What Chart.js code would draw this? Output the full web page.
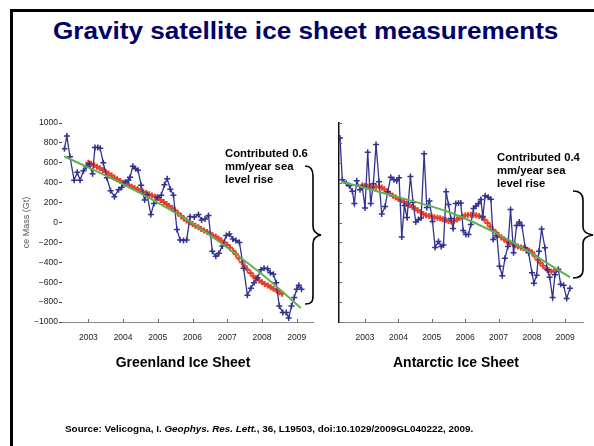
<!DOCTYPE html>
<html>
<head>
<meta charset="utf-8">
<script src="https://cdn.jsdelivr.net/npm/chart.js@4.4.1/dist/chart.umd.min.js"></script>
<style>
  html, body { margin: 0; padding: 0; background: #fff; }
  body { width: 594px; height: 446px; position: relative; overflow: hidden;
         font-family: "Liberation Sans", Arial, Helvetica, sans-serif; }
  .abs { position: absolute; white-space: nowrap; }
  .frame { position: absolute; background: #000; z-index: 5; }
  #title { left: 53px; top: 20px; font-size: 23px; line-height: 23px; font-weight: bold;
           color: #000066; transform: scaleX(1.136); transform-origin: left top; }
  .note { font-size: 11.3px; line-height: 13px; font-weight: bold; color: #000; }
  .caption { width: 200px; text-align: center; font-size: 14px; line-height: 14px; font-weight: bold; color: #000; }
  #source { left: 65px; top: 425px; font-size: 8.4px; line-height: 9px; font-weight: bold; color: #000;
            transform: scaleX(1.18); transform-origin: left top; }
  canvas { position: absolute; }
  svg { position: absolute; left: 0; top: 0; pointer-events: none; }
</style>
</head>
<body>
<div class="frame" style="left:10px;top:9px;width:600px;height:3px"></div>
<div class="frame" style="left:10px;top:9px;width:3px;height:450px"></div>

<div id="title" class="abs">Gravity satellite ice sheet measurements</div>

<canvas id="greenland" width="320" height="230" style="left:0;top:110px"></canvas>
<canvas id="antarctic" width="274" height="230" style="left:320px;top:110px"></canvas>

<div class="abs note" style="left:225px;top:147px">Contributed 0.6<br>mm/year sea<br>level rise</div>
<div class="abs note" style="left:497px;top:151px">Contributed 0.4<br>mm/year sea<br>level rise</div>

<svg width="594" height="446">
  <path d="M305,166 C311,166 313,170 313,176 L313,226 C313,231 316,234 321,235 C316,236 313,239 313,244 L313,296 C313,302 311,304 305,304"
        fill="none" stroke="#000" stroke-width="1.6"/>
  <path d="M573,191 C580,191 583,195 583,200 L583,227 C583,232 587,234 593,235 C587,236 583,238 583,243 L583,270 C583,275 580,278 573,278"
        fill="none" stroke="#000" stroke-width="1.6"/>
</svg>

<div class="abs caption" style="left:83px;top:355px">Greenland Ice Sheet</div>
<div class="abs caption" style="left:356px;top:355px">Antarctic Ice Sheet</div>

<div id="source" class="abs">Source: Velicogna, I. <i>Geophys. Res. Lett.</i>, 36, L19503, doi:10.1029/2009GL040222, 2009.</div>

<script>
// axis ticks
const yearTicks = [2003, 2004, 2005, 2006, 2007, 2008, 2009];
const massTicks = [1000, 800, 600, 400, 200, 0, -200, -400, -600, -800, -1000];

// Greenland monthly mass (Gt)
const greenlandYears = [2002.31, 2002.38, 2002.47, 2002.59, 2002.68, 2002.76, 2002.86, 2002.94,
    2003.02, 2003.12, 2003.19, 2003.27, 2003.34, 2003.43, 2003.53, 2003.64, 2003.75, 2003.87, 2003.96,
    2004.06, 2004.15, 2004.20, 2004.28, 2004.36, 2004.43, 2004.52, 2004.62, 2004.69, 2004.80, 2004.89, 2004.99,
    2005.10, 2005.19, 2005.27, 2005.36, 2005.45, 2005.55, 2005.64, 2005.74, 2005.83, 2005.93,
    2006.05, 2006.17, 2006.26, 2006.36, 2006.46, 2006.57, 2006.67, 2006.76, 2006.86, 2006.97,
    2007.06, 2007.16, 2007.25, 2007.35, 2007.47, 2007.58, 2007.68, 2007.77, 2007.87, 2007.97,
    2008.06, 2008.16, 2008.24, 2008.33, 2008.41, 2008.50, 2008.60, 2008.70, 2008.77, 2008.85, 2008.93,
    2009.00, 2009.06, 2009.14];
const greenlandMass = [740, 870, 660, 425, 505, 425, 520, 560,
    590, 490, 755, 755, 745, 600, 450, 320, 260, 330, 355,
    405, 425, 455, 565, 540, 525, 375, 225, 280, 80, 190, 255,
    275, 380, 440, 335, 275, -70, -175, -180, -175, 60,
    55, 80, 25, 35, 70, -290, -340, -310, -235, -130,
    -115, -165, -180, -200, -460, -730, -660, -605, -555, -475,
    -460, -465, -505, -520, -605, -840, -905, -905, -960, -840, -755,
    -670, -630, -670];

// Greenland smoothed series
const greenlandSmoothYears = [
    2003.00, 2003.08, 2003.17, 2003.25, 2003.33, 2003.42, 2003.50, 2003.58, 2003.67, 2003.75, 2003.83, 2003.92,
    2004.00, 2004.08, 2004.17, 2004.25, 2004.33, 2004.42, 2004.50, 2004.58, 2004.67, 2004.75, 2004.83, 2004.92,
    2005.00, 2005.08, 2005.17, 2005.25, 2005.33, 2005.42, 2005.50, 2005.58, 2005.67, 2005.75, 2005.83, 2005.92,
    2006.00, 2006.08, 2006.17, 2006.25, 2006.33, 2006.42, 2006.50, 2006.58, 2006.67, 2006.75, 2006.83, 2006.92,
    2007.00, 2007.08, 2007.17, 2007.25, 2007.33, 2007.42, 2007.50, 2007.58, 2007.67, 2007.75, 2007.83, 2007.92,
    2008.00, 2008.08, 2008.17, 2008.25, 2008.33, 2008.42, 2008.50, 2008.58];
const greenlandSmooth = [
    600, 590, 575, 560, 545, 528, 510, 492, 472, 450, 435, 418,
    400, 388, 374, 360, 347, 333, 320, 308, 297, 285, 272, 259,
    245, 225, 205, 185, 165, 142, 120, 92, 65, 40, 20, 2,
    -15, -32, -48, -65, -80, -95, -110, -127, -143, -160, -180, -202,
    -225, -255, -287, -320, -360, -400, -440, -475, -508, -540, -562, -582,
    -600, -617, -634, -650, -667, -684, -700, -715];

// Greenland fitted trend
const greenlandFitYears = [2002.30, 2004.00, 2006.00, 2008.00, 2009.12];
const greenlandFit = [666, 385, -10, -520, -860];

// Antarctic monthly mass (Gt)
const antarcticYears = [2002.25, 2002.32, 2002.44, 2002.53, 2002.62, 2002.68, 2002.75, 2002.85, 2002.92,
    2003.00, 2003.08, 2003.17, 2003.25, 2003.33, 2003.42, 2003.50, 2003.60, 2003.68, 2003.77, 2003.87, 2003.95,
    2004.02, 2004.10, 2004.18, 2004.26, 2004.36, 2004.44, 2004.52, 2004.60, 2004.68, 2004.77, 2004.85, 2004.93,
    2005.02, 2005.10, 2005.20, 2005.28, 2005.35, 2005.43, 2005.50, 2005.57, 2005.64, 2005.72, 2005.80, 2005.87, 2005.94,
    2006.02, 2006.10, 2006.17, 2006.25, 2006.32, 2006.40, 2006.47, 2006.53, 2006.60, 2006.69, 2006.77, 2006.84, 2006.95,
    2007.03, 2007.11, 2007.19, 2007.28, 2007.36, 2007.45, 2007.54, 2007.62, 2007.70, 2007.80, 2007.90,
    2008.00, 2008.06, 2008.14, 2008.21, 2008.29, 2008.39, 2008.46, 2008.53, 2008.62, 2008.69, 2008.79, 2008.86, 2008.95,
    2009.04, 2009.14];
const antarcticMass = [850, 430, 395, 370, 315, 190, 420, 330, 355,
    145, 705, 190, 390, 785, 410, 85, 160, 310, 455, 430, 420,
    450, -145, 170, 50, 462, 200, 5, 30, 45, 690, 150, 215,
    10, -250, -190, -240, -225, 310, 180, 40, -60, 190, 195, 195, -80,
    -120, -120, -20, 140, 165, 190, 230, 60, 270, 255, 233, -172, -130,
    -440, -535, -360, -240, 130, -305, -30, 5, -30, -255, -305,
    -505, -610, -530, -290, -65, -255, -475, -550, -755, -525, -470, -620, -630,
    -765, -660];

// Antarctic smoothed series
const antarcticSmoothYears = [2002.92,
    2003.00, 2003.08, 2003.17, 2003.25, 2003.33, 2003.42, 2003.50, 2003.58, 2003.67, 2003.75, 2003.83, 2003.92,
    2004.00, 2004.08, 2004.17, 2004.25, 2004.33, 2004.42, 2004.50, 2004.58, 2004.67, 2004.75, 2004.83, 2004.92,
    2005.00, 2005.08, 2005.17, 2005.25, 2005.33, 2005.42, 2005.50, 2005.58, 2005.67, 2005.75, 2005.83, 2005.92,
    2006.00, 2006.08, 2006.17, 2006.25, 2006.33, 2006.42, 2006.50, 2006.58, 2006.67, 2006.75, 2006.83, 2006.92,
    2007.00, 2007.08, 2007.17, 2007.25, 2007.33, 2007.42, 2007.50, 2007.58, 2007.67, 2007.75, 2007.83, 2007.92,
    2008.00, 2008.08, 2008.17, 2008.25, 2008.33, 2008.42, 2008.50, 2008.58, 2008.67];
const antarcticSmooth = [375,
    368, 362, 358, 355, 360, 362, 352, 335, 310, 288, 270, 252,
    235, 220, 205, 190, 173, 157, 140, 122, 103, 85, 72, 65,
    60, 54, 48, 42, 33, 24, 15, 12, 18, 30, 45, 60,
    70, 75, 78, 78, 74, 65, 50, 28, -5, -40, -72, -100,
    -125, -148, -170, -190, -204, -217, -230, -240, -250, -260, -272, -285,
    -300, -335, -375, -405, -435, -460, -480, -492, -485];

// Antarctic fitted trend
const antarcticFitYears = [2002.30, 2004.05, 2005.55, 2007.05, 2009.14];
const antarcticFit = [410, 250, 100, -130, -550];

const BLUE  = "#32338f";
const RED   = "#e5412b";
const GREEN = "#5cb352";

function toPoints(xs, ys) {
    return xs.map(function(x, i) { return { x: x, y: ys[i] }; });
}

function fmtMass(v) {
    return v < 0 ? "\u2212" + (-v) : "" + v;
}

// short tick marks drawn inward from the axes
const innerTicks = {
    id: "innerTicks",
    afterDraw(chart, args, opts) {
        const ctx = chart.ctx;
        const a = chart.chartArea;
        const len = opts.len || 3;
        ctx.save();
        ctx.strokeStyle = opts.color || "#555";
        ctx.lineWidth = 1;
        ctx.beginPath();
        chart.scales.x.ticks.forEach(function(t) {
            const px = Math.round(chart.scales.x.getPixelForValue(t.value)) + 0.5;
            ctx.moveTo(px, a.bottom);
            ctx.lineTo(px, a.bottom - len);
        });
        if (opts.yInside) {
            chart.scales.y.ticks.forEach(function(t) {
                const py = Math.round(chart.scales.y.getPixelForValue(t.value)) + 0.5;
                ctx.moveTo(a.left, py);
                ctx.lineTo(a.left + len, py);
            });
        }
        ctx.stroke();
        ctx.restore();
    }
};

function makeDatasets(years, mass, sYears, smooth, fYears, fit) {
    return [
        {
            data: toPoints(fYears, fit),
            borderColor: GREEN,
            borderWidth: 2,
            pointRadius: 0,
            tension: 0.4,
            cubicInterpolationMode: "monotone",
            order: 0,
        },
        {
            data: toPoints(years, mass),
            borderColor: BLUE,
            borderWidth: 1.3,
            pointStyle: "cross",
            pointRadius: 3,
            pointBorderWidth: 1.5,
            pointBorderColor: BLUE,
            tension: 0,
            order: 1,
        },
        {
            data: toPoints(sYears, smooth),
            showLine: false,
            pointStyle: "cross",
            pointRadius: 3,
            pointBorderWidth: 2,
            pointBorderColor: RED,
            order: 2,
        },
    ];
}

function makeChart(id, datasets, cfg) {
    return new Chart(document.getElementById(id), {
        type: "line",
        data: { datasets: datasets },
        plugins: [innerTicks],
        options: {
            responsive: false,
            animation: false,
            devicePixelRatio: 1,
            layout: { padding: { top: 13, right: cfg.padRight, left: 0, bottom: 0 } },
            plugins: {
                legend: { display: false },
                tooltip: { enabled: false },
                innerTicks: { len: 3, color: "#666", yInside: !cfg.yLabels },
            },
            scales: {
                x: {
                    type: "linear",
                    min: cfg.xMin,
                    max: cfg.xMax,
                    afterBuildTicks: function(s) { s.ticks = yearTicks.map(function(v) { return { value: v }; }); },
                    afterFit: function(s) { s.height = 18; },
                    ticks: {
                        autoSkip: false, maxRotation: 0, padding: 3,
                        color: "#222", font: { size: 8.5, family: "Liberation Sans" },
                        callback: function(v) { return "" + v; },
                    },
                    grid: { display: false },
                    border: { display: true, color: "#888", width: 1 },
                },
                y: {
                    min: -1000,
                    max: 1000,
                    afterBuildTicks: function(s) { s.ticks = massTicks.map(function(v) { return { value: v }; }); },
                    afterFit: function(s) { s.width = cfg.yWidth; },
                    ticks: {
                        display: cfg.yLabels, padding: 1,
                        color: "#222", font: { size: 8.5, family: "Liberation Sans" },
                        callback: fmtMass,
                    },
                    grid: {
                        display: cfg.yLabels, drawOnChartArea: false, drawTicks: true,
                        tickLength: 3, color: "#444",
                    },
                    border: cfg.yLabels ? { display: false } : { display: true, color: "#111", width: 1.5 },
                    title: {
                        display: cfg.yLabels,
                        text: "ce Mass (Gt)",
                        color: "#555",
                        font: { size: 9, family: "Liberation Sans" },
                        padding: { top: 21, bottom: 0 },
                    },
                },
            },
        },
    });
}

makeChart("greenland",
    makeDatasets(greenlandYears, greenlandMass, greenlandSmoothYears, greenlandSmooth, greenlandFitYears, greenlandFit),
    { xMin: 2002.24, xMax: 2009.47, padRight: 7, yWidth: 62, yLabels: true });

makeChart("antarctic",
    makeDatasets(antarcticYears, antarcticMass, antarcticSmoothYears, antarcticSmooth, antarcticFitYears, antarcticFit),
    { xMin: 2002.22, xMax: 2009.53, padRight: 11, yWidth: 19, yLabels: false });
</script>
</body>
</html>
